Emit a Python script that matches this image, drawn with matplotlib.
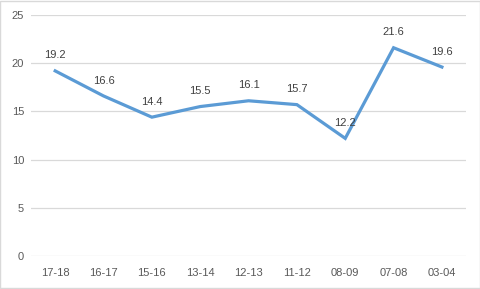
import matplotlib.pyplot as plt
from matplotlib.patches import Rectangle

# datos
periodos = ['17-18', '16-17', '15-16', '13-14', '12-13', '11-12', '08-09', '07-08', '03-04']
valores = [19.2, 16.6, 14.4, 15.5, 16.1, 15.7, 12.2, 21.6, 19.6]
yticks = [0, 5, 10, 15, 20, 25]

plt.rcParams['font.family'] = ['Liberation Sans', 'DejaVu Sans']

fig = plt.figure(figsize=(4.81, 2.89), dpi=100)
ax = fig.add_axes([0.0645, 0.1142, 0.9045, 0.834])

x = list(range(len(periodos)))
ax.plot(x, valores, color='#5B9BD5', linewidth=2.3, solid_joinstyle='miter', zorder=3)

for xi, v in zip(x, valores):
    ax.annotate(str(v), (xi, v), xytext=(0, 7.5), textcoords='offset points',
                ha='center', va='bottom', fontsize=8, color='#404040')

ax.set_xlim(-0.5, len(periodos) - 0.5)
ax.set_ylim(0, 25)
ax.set_yticks(yticks)
ax.set_xticks(x)
ax.set_xticklabels(periodos)
ax.yaxis.grid(True, color='#D9D9D9', linewidth=0.9)
ax.set_axisbelow(True)
for s in ax.spines.values():
    s.set_visible(False)
ax.tick_params(axis='both', length=0, labelsize=8, labelcolor='#595959')
ax.tick_params(axis='x', pad=9)
ax.tick_params(axis='y', pad=5)

# borde del area del grafico
fig.patches.append(Rectangle((0.001, 0.002), 0.997, 0.995, transform=fig.transFigure,
                             fill=False, edgecolor='#D9D9D9', linewidth=1.0))

fig.savefig('out.png', dpi=100)
